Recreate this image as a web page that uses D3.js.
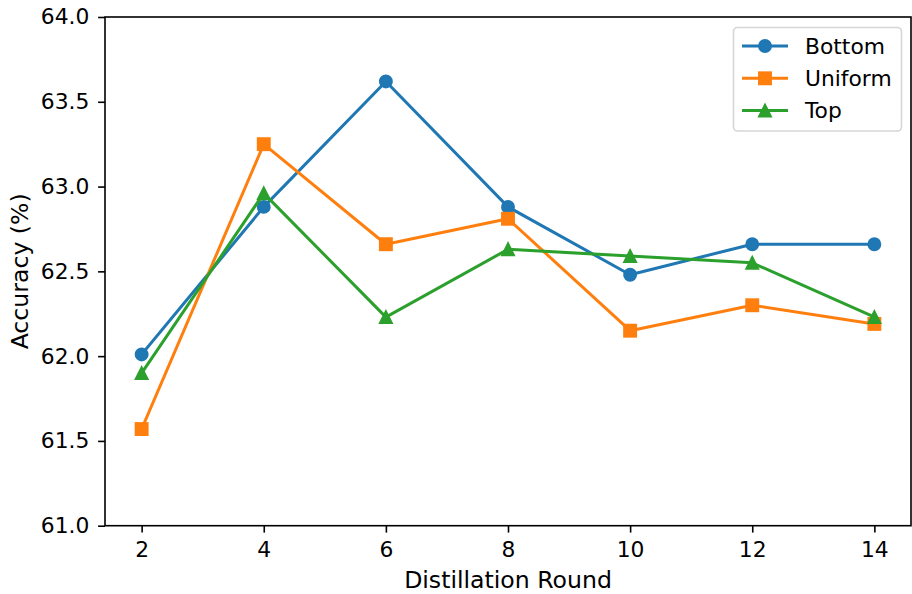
<!DOCTYPE html>
<html lang="en">
<head>
<meta charset="utf-8">
<title>Accuracy vs Distillation Round</title>
<script src="https://d3js.org/d3.v7.min.js"></script>
<style>
  body { margin: 0; background: #fff; }
  text { font-family: "DejaVu Sans", sans-serif; fill: #000; }
</style>
</head>
<body>
<script>
// data
var rounds = [2, 4, 6, 8, 10, 12, 14];
var bottom = [62.01, 62.88, 63.62, 62.88, 62.48, 62.66, 62.66];
var uniform = [61.57, 63.25, 62.66, 62.81, 62.15, 62.30, 62.19];
var top_ = [61.90, 62.96, 62.23, 62.63, 62.59, 62.55, 62.23];
var seriesNames = ["Bottom", "Uniform", "Top"];
var xTicks = [2, 4, 6, 8, 10, 12, 14];
var yTicks = [61.0, 61.5, 62.0, 62.5, 63.0, 63.5, 64.0];

var w = 912, h = 594;
var left = 105, right = 911, topY = 17, bottomY = 525.7;
var tickFs = 21.8, labelFs = 23.6, legendFs = 21.8;

var series = [
  { name: seriesNames[0], values: bottom, color: "#1f77b4", marker: "circle" },
  { name: seriesNames[1], values: uniform, color: "#ff7f0e", marker: "square" },
  { name: seriesNames[2], values: top_, color: "#2ca02c", marker: "triangle" }
];

var x = d3.scaleLinear().domain([1.4, 14.6]).range([left, right]);
var y = d3.scaleLinear().domain([61, 64]).range([bottomY, topY]);

var svg = d3.select("body").append("svg")
  .attr("width", w).attr("height", h);

// axes
var xAxis = d3.axisBottom(x).tickValues(xTicks).tickFormat(d3.format("d"))
  .tickSize(6.9).tickPadding(9.3);
var yAxis = d3.axisLeft(y).tickValues(yTicks).tickFormat(d3.format(".1f"))
  .tickSize(6.9).tickPadding(8.7);

var gx = svg.append("g").attr("transform", "translate(0," + bottomY + ")").call(xAxis);
var gy = svg.append("g").attr("transform", "translate(" + left + ",0)").call(yAxis);
[gx, gy].forEach(function(g) {
  g.select(".domain").remove();
  g.selectAll(".tick line").attr("stroke", "#000").attr("stroke-width", 1.6);
  g.selectAll(".tick text").style("font-size", tickFs + "px")
    .style("font-family", "DejaVu Sans, sans-serif").attr("fill", "#000");
});

// frame
svg.append("rect")
  .attr("x", left).attr("y", topY)
  .attr("width", right - left).attr("height", bottomY - topY)
  .attr("fill", "none").attr("stroke", "#000").attr("stroke-width", 1.6);

// axis labels
svg.append("text")
  .attr("x", (left + right) / 2).attr("y", 588)
  .attr("text-anchor", "middle").style("font-size", labelFs + "px")
  .text("Distillation Round");
svg.append("text")
  .attr("transform", "translate(27.5," + ((topY + bottomY) / 2) + ") rotate(-90)")
  .attr("text-anchor", "middle").style("font-size", labelFs + "px")
  .text("Accuracy (%)");

function drawMarker(g, type, cx, cy, color) {
  var s = 11.9;
  if (type === "circle") {
    g.append("circle").attr("cx", cx).attr("cy", cy).attr("r", s / 2)
      .attr("fill", color).attr("stroke", color).attr("stroke-width", 2);
  } else if (type === "square") {
    g.append("rect").attr("x", cx - s / 2).attr("y", cy - s / 2)
      .attr("width", s).attr("height", s)
      .attr("fill", color).attr("stroke", color).attr("stroke-width", 2);
  } else {
    g.append("path")
      .attr("d", "M" + cx + "," + (cy - s / 2) + "L" + (cx - s / 2) + "," + (cy + s / 2) +
        "L" + (cx + s / 2) + "," + (cy + s / 2) + "Z")
      .attr("fill", color).attr("stroke", color).attr("stroke-width", 2)
      .attr("stroke-linejoin", "miter");
  }
}

var line = d3.line()
  .x(function(d, i) { return x(rounds[i]); })
  .y(function(d) { return y(d); });

var plot = svg.append("g");
series.forEach(function(s) {
  plot.append("path").datum(s.values)
    .attr("d", line).attr("fill", "none")
    .attr("stroke", s.color).attr("stroke-width", 3)
    .attr("stroke-linejoin", "round").attr("stroke-linecap", "square");
  s.values.forEach(function(v, i) {
    drawMarker(plot, s.marker, x(rounds[i]), y(v), s.color);
  });
});

// legend
var lg = svg.append("g");
lg.append("rect")
  .attr("x", 733.5).attr("y", 27.5).attr("width", 168).attr("height", 103.5)
  .attr("rx", 4).attr("fill", "#fff").attr("fill-opacity", 0.8)
  .attr("stroke", "#d6d6d6").attr("stroke-width", 1.6);
series.forEach(function(s, i) {
  var ly = 46 + i * 32.3;
  lg.append("line").attr("x1", 742).attr("x2", 788).attr("y1", ly).attr("y2", ly)
    .attr("stroke", s.color).attr("stroke-width", 3);
  drawMarker(lg, s.marker, 765, ly, s.color);
  lg.append("text").attr("x", 805).attr("y", ly).attr("dy", "0.36em")
    .style("font-size", legendFs + "px").text(s.name);
});
</script>
</body>
</html>
